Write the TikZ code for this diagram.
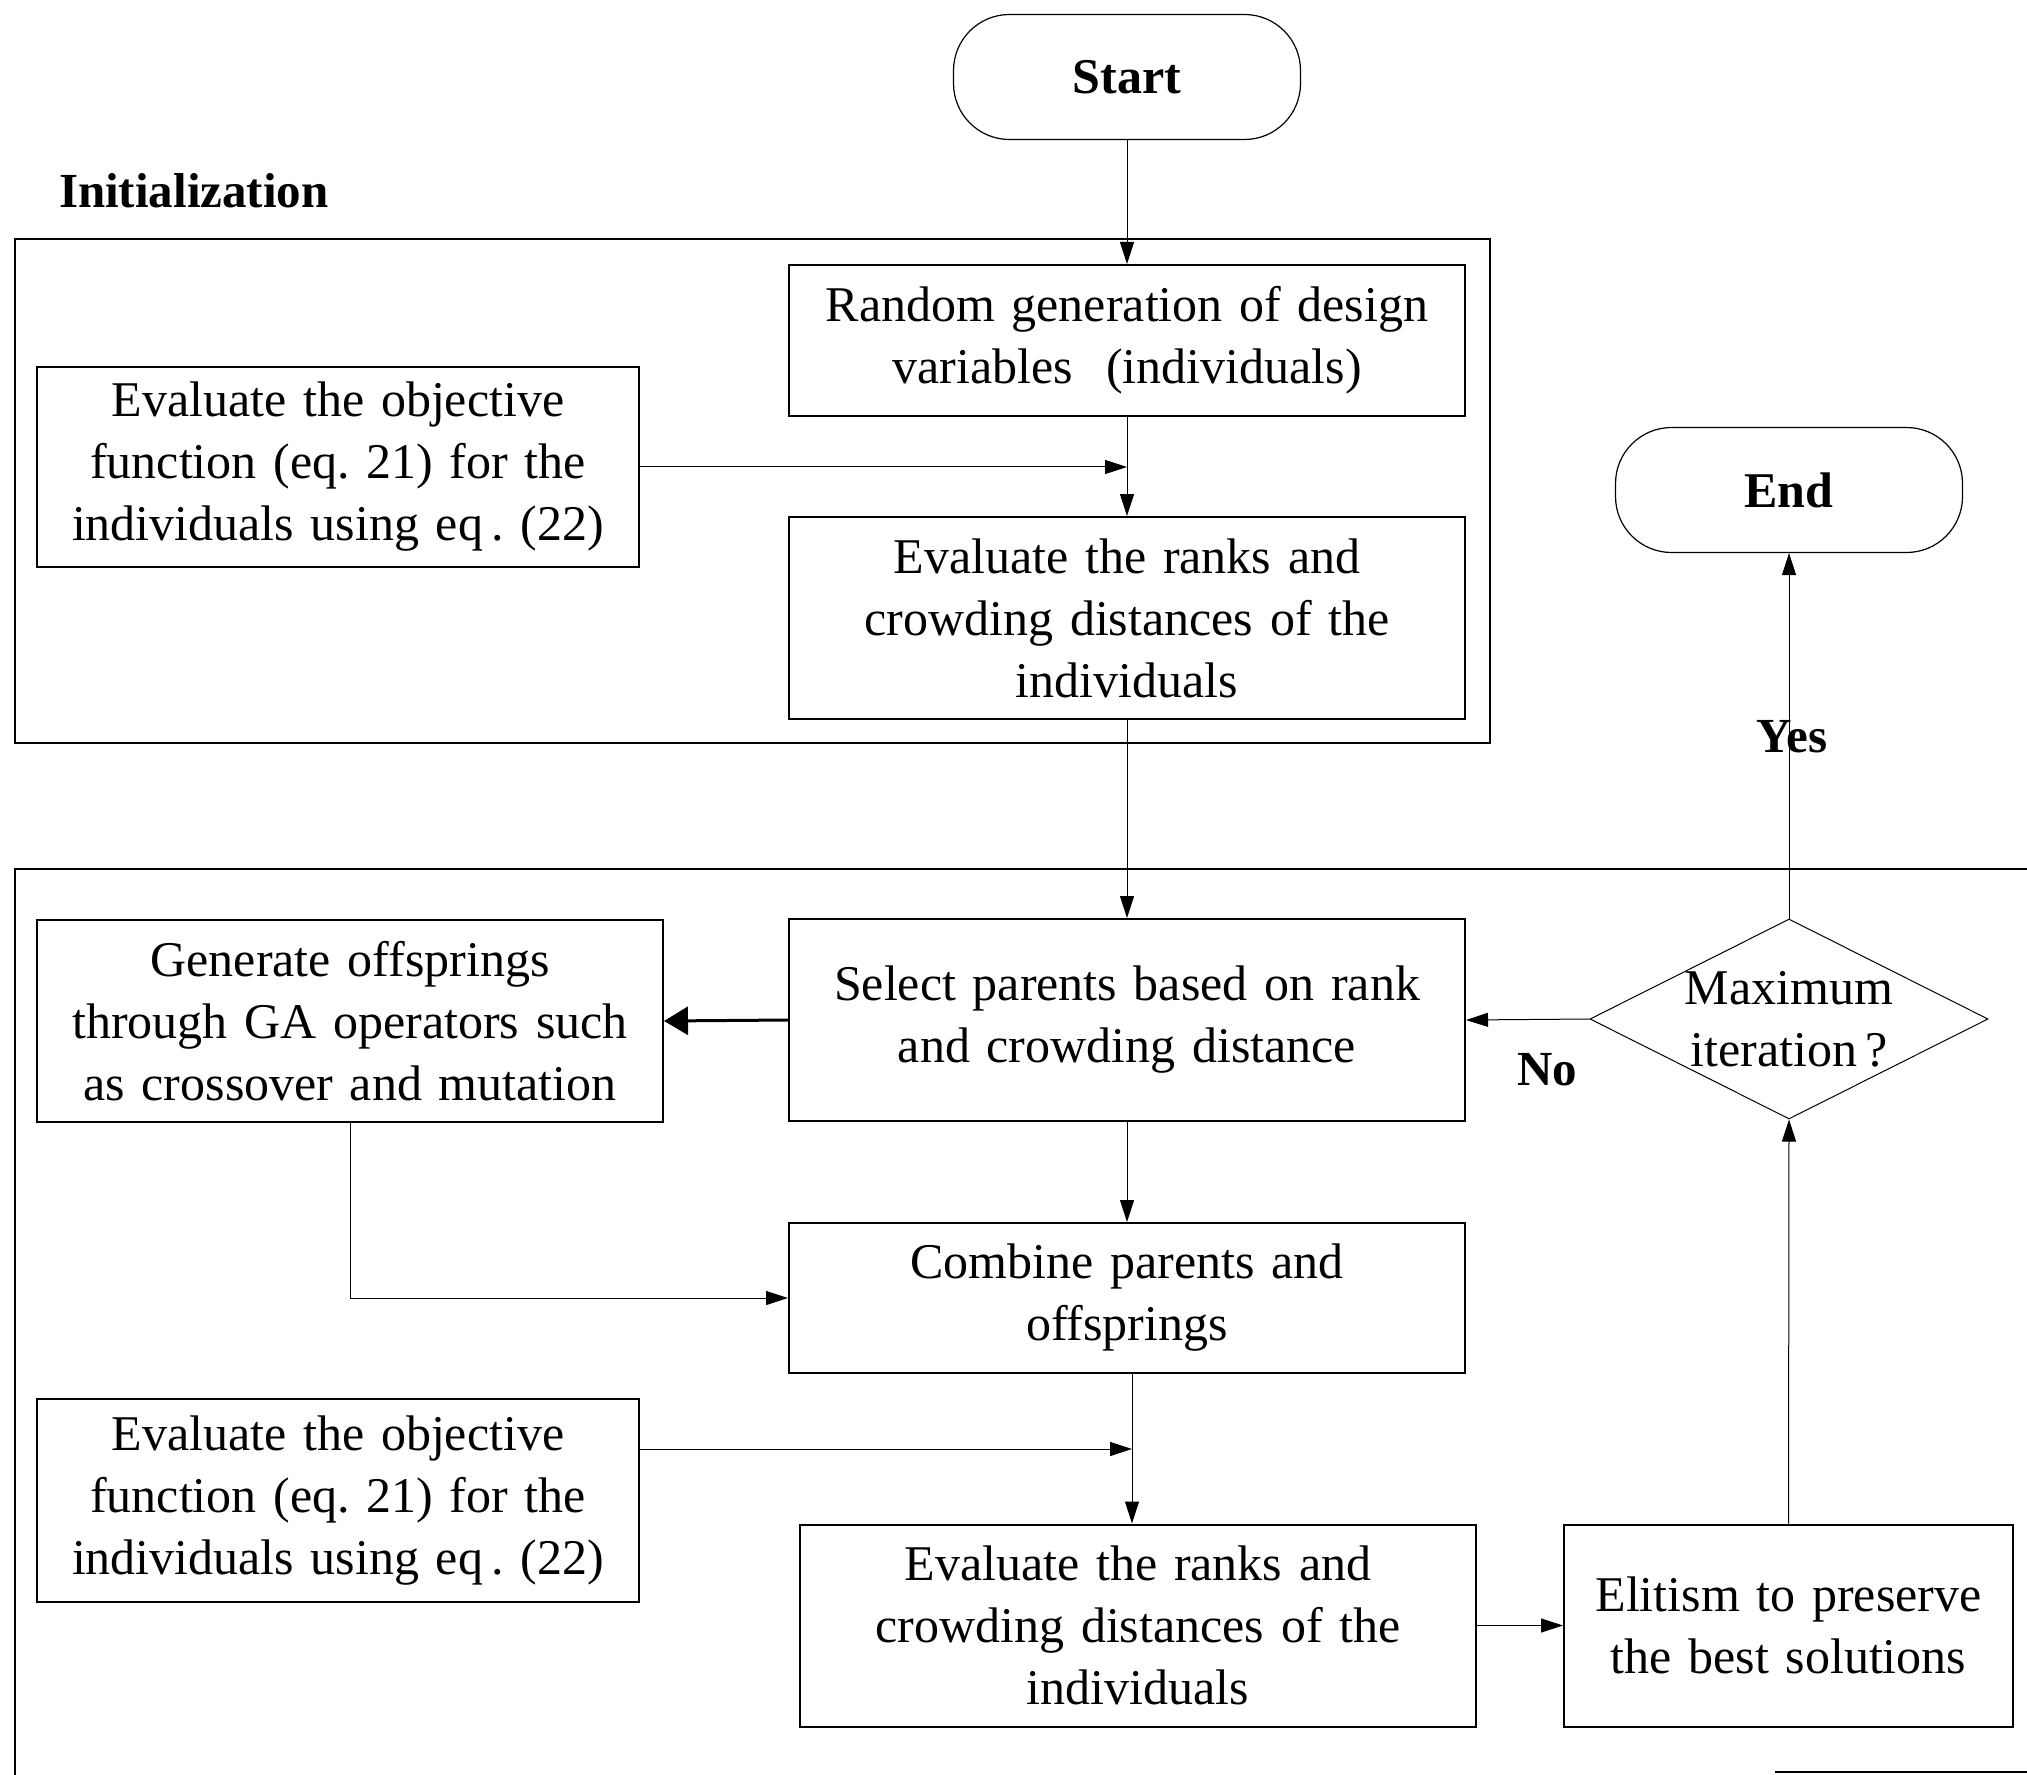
\documentclass[tikz,border=0pt]{standalone}
\usepackage{fontspec}
\setmainfont{Liberation Serif}
\usetikzlibrary{shapes.geometric,arrows.meta}
\frenchspacing
\begin{document}
\begin{tikzpicture}[x=0.5pt,y=-0.5pt,
  every node/.style={font=\fontsize{25}{31}\selectfont},
  box/.style={draw,line width=1pt,align=center,inner sep=2pt,text width=#1},
  box/.default=320pt,
  term/.style={draw,line width=0.6pt,rounded corners=28pt,minimum width=173.5pt,minimum height=62.5pt,font=\fontsize{25}{31}\selectfont\bfseries},
  lbl/.style={font=\fontsize{24.5}{31}\selectfont\bfseries},
  frame/.style={line width=1pt},
  arr/.style={line width=0.5pt,-{Triangle[length=11pt,width=7pt]}},
  thickarr/.style={line width=1.5pt,-{Triangle[length=12pt,width=14pt]}}]
\useasboundingbox (0,0) rectangle (2027,1775);
% frames
\draw[frame] (15,239) rectangle (1490,743);
\draw[frame] (2027,869) -- (15,869) -- (15,1775);
\draw[frame] (1775,1772) -- (2027,1772);
% nodes
\node[term] (start) at (1127,77) {Start};
\node[lbl,anchor=west] (init) at (52,191) {Initialization};
\node[box,minimum width=338pt,minimum height=75.5pt] (rand) at (1127,340.5) {Random generation of design\\variables~ (individuals)};
\node[box=295pt,minimum width=301pt,minimum height=100pt] (eo1) at (338,467) {Evaluate the objective\\function (eq. 21) for the\\individuals using eq\,. (22)};
\node[box,minimum width=338pt,minimum height=101pt] (rk1) at (1127,618) {Evaluate the ranks and\\crowding distances of the\\individuals};
\node[term] (end) at (1789,490) {End};
\node[lbl] (yes) at (1792,737) {Yes};
\node[box=305pt,minimum width=313pt,minimum height=101pt] (gen) at (350,1021) {Generate offsprings\\through GA operators such\\as crossover and mutation};
\node[box,minimum width=338pt,minimum height=101pt] (sel) at (1127,1020) {Select parents based on rank\\and crowding distance};
\node[diamond,draw,line width=0.5pt,minimum width=199pt,minimum height=100pt,inner sep=0pt] (dec) at (1789,1019) {};
\node[align=center] (dectext) at (dec.center) {Maximum\\iteration\,?};
\node[lbl] (no) at (1547,1070) {No};
\node[box,minimum width=338pt,minimum height=75pt] (comb) at (1127,1298) {Combine parents and\\offsprings};
\node[box=295pt,minimum width=301pt,minimum height=101.5pt] (eo2) at (338,1500.5) {Evaluate the objective\\function (eq. 21) for the\\individuals using eq\,. (22)};
\node[box,minimum width=338pt,minimum height=101pt] (rk2) at (1138,1625.5) {Evaluate the ranks and\\crowding distances of the\\individuals};
\node[box=218pt,minimum width=224.5pt,minimum height=101pt] (elit) at (1788.5,1625.5) {Elitism to preserve\\the best solutions};
\coordinate (mid2) at ([xshift=-3pt]comb.south -| rk2.north);
% connectors
\draw[arr] (start.south) -- (rand.north);
\draw[arr] (rand.south) -- (rk1.north);
\draw[arr] (eo1.east) -- (eo1.east -| rand.south);
\draw[arr] (rk1.south) -- (sel.north);
\draw[thickarr] (sel.west) -- (gen.east);
\draw[arr] (gen.south) |- (comb.west);
\draw[arr] (sel.south) -- (comb.north);
\draw[arr] (mid2) -- (mid2 |- rk2.north);
\draw[arr] ([yshift=25.75pt]eo2.east) -- ([yshift=25.75pt]eo2.east -| mid2);
\draw[arr] (rk2.east) -- (elit.west);
\draw[arr] (elit.north) -- (dec.south);
\draw[arr] (dec.north) -- (end.south);
\draw[arr] (dec.west) -- (sel.east);
\end{tikzpicture}
\end{document}
